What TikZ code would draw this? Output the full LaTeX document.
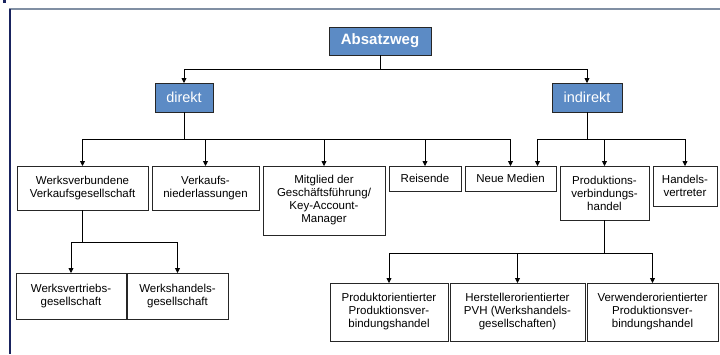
\documentclass[tikz,border=0pt]{standalone}
\usepackage{fontspec}
\setmainfont{Liberation Sans}
\usetikzlibrary{positioning,arrows.meta}
\definecolor{boxblue}{RGB}{92,139,197}
\definecolor{framenavy}{RGB}{25,35,95}
\definecolor{framegray}{RGB}{128,143,163}

\begin{document}
\begin{tikzpicture}[
    x=1pt, y=-1pt,
    node distance=4pt,
 bluebox/.style = {
        draw=black!85, fill=boxblue, line width=0.9pt, text=white,
        font=\fontsize{14.5}{16}\selectfont, inner sep=2pt, outer sep=0pt,
        minimum height=29},
whitebox/.style = {
        draw=black!85, line width=0.8pt, align=center,
        font=\fontsize{11.5}{13}\selectfont, inner sep=2pt, outer sep=0pt,
        anchor=north west},
   arrow/.style = {line width=0.8pt,-{Triangle[length=5pt,width=5pt]}}
                    ]
\useasboundingbox (0,0) rectangle (720,354);
% the frame
\fill[framenavy] (3,0) rectangle (6,3);
\draw[framegray,line width=1.5pt] (9,9) -- (720,9);
\draw[framenavy,line width=1.2pt] (10,9) -- (10,354);
% the blue nodes at the top
\node (abs) [bluebox, minimum width=102, minimum height=28,
             font=\fontsize{15}{16}\selectfont\bfseries] at (380,41) {Absatzweg};
\node (dir) [bluebox, minimum width=58] at (184,97.5) {direkt};
\node (ind) [bluebox, minimum width=70] at (587,97.5) {indirekt};
% the row of channels
\node (wv) [whitebox, minimum width=131, minimum height=44] at (17,166)
                {Werksverbundene\\Verkaufsgesellschaft};
\node (vn) [whitebox, minimum width=107, minimum height=44,
            right=of wv.north east, anchor=north west]
                {Verkaufs-\\niederlassungen};
\node (mg) [whitebox, minimum width=122, minimum height=69,
            right=of vn.north east, anchor=north west]
                {Mitglied der\\Geschäftsführung/\\Key-Account-\\Manager};
\node (rs) [whitebox, minimum width=72, minimum height=25,
            right=of mg.north east, anchor=north west] {Reisende};
\node (nm) [whitebox, minimum width=91, minimum height=25,
            right=of rs.north east, anchor=north west] {Neue Medien};
\node (pv) [whitebox, minimum width=89, minimum height=54,
            right=of nm.north east, anchor=north west]
                {Produktions-\\verbindungs-\\handel};
\node (hv) [whitebox, minimum width=64, minimum height=40,
            right=of pv.north east, anchor=north west]
                {Handels-\\vertreter};
% the lower rows
\node (wvg) [whitebox, minimum width=110, minimum height=46] at (16,273)
                {Werksvertriebs-\\gesellschaft};
\node (whg) [whitebox, minimum width=101, minimum height=46,
             right=1pt of wvg.north east, anchor=north west]
                {Werkshandels-\\gesellschaft};
\node (po) [whitebox, minimum width=118, minimum height=58] at (330,283)
                {Produktorientierter\\Produktionsver-\\bindungshandel};
\node (ho) [whitebox, minimum width=135, minimum height=58,
            right=2pt of po.north east, anchor=north west]
                {Herstellerorientierter\\PVH (Werkshandels-\\gesellschaften)};
\node (vo) [whitebox, minimum width=131, minimum height=58,
            right=2pt of ho.north east, anchor=north west]
                {Verwenderorientierter\\Produktionsver-\\bindungshandel};
% the connectors
\draw[arrow] (abs.south) -- ++(0,14) -| (dir.north);
\draw[arrow] (abs.south) -- ++(0,14) -| (ind.north);
\foreach \n in {wv,vn,mg,rs,nm}
    \draw[arrow] (dir.south) -- ++(0,27) -| (\n.north);
\draw[arrow] (ind.south) -- ++(0,27) -| ([xshift=27pt] nm.north);
\foreach \n in {pv,hv}
    \draw[arrow] (ind.south) -- ++(0,27) -| (\n.north);
\foreach \n in {wvg,whg}
    \draw[arrow] (wv.south) -- ++(0,32) -| (\n.north);
\foreach \n in {po,ho,vo}
    \draw[arrow] (pv.south) -- ++(0,33) -| (\n.north);
\end{tikzpicture}
\end{document}
